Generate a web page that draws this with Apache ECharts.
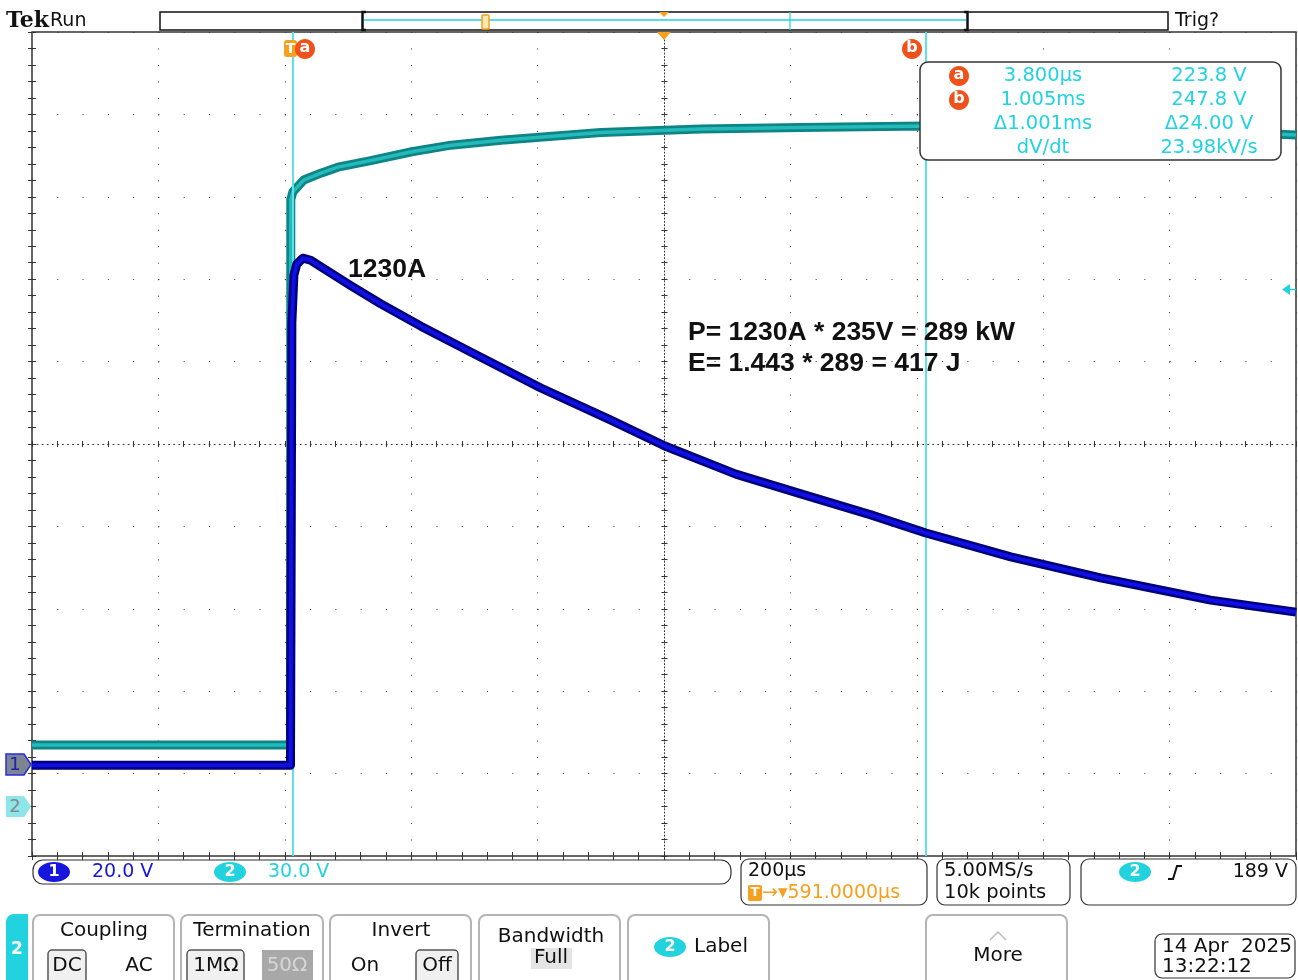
<!DOCTYPE html>
<html><head><meta charset="utf-8">
<script src="https://cdn.jsdelivr.net/npm/echarts@6/dist/echarts.min.js"></script>
<style>html,body{margin:0;padding:0;background:#fff;overflow:hidden}#c{width:1298px;height:980px}</style>
</head><body><div id="c"></div>
<script>
// ---- horizontal: 200 µs/div, 10 div, centre at 591 µs (trigger delay)
const timeWindowUs = [-409, 1591];
const divRange = [0, 10];
// ---- CH1 (blue, 20 V/div) trace
const ch1Time = [-409, 0, 0.5, 2.2, 5.4, 10.1, 19.6, 32, 48.1, 95.6, 143, 206.3, 285.4, 396.2, 507, 592.4, 704.7, 807.6, 918.4, 1005.4, 1139.6, 1282, 1456, 1591];
const ch1Volt = [0, 0, 0, 107.4, 119, 121.7, 123.1, 122.6, 121.0, 116.4, 112.0, 106.6, 100.3, 91.6, 83.8, 77.5, 70.7, 65.9, 60.8, 56.4, 50.6, 45.5, 40.1, 37.2];
const ch1Range = [-22, 178];
// ---- CH2 (cyan, 30 V/div) trace
const ch2Time = [-409, 0, 0.5, 3.8, 21, 48, 75, 127, 192, 254, 333, 491, 649, 808, 1005, 1520, 1591];
const ch2Volt = [22.4, 22.4, 221, 223.8, 228.1, 230.6, 232.8, 235.2, 238.4, 240.8, 242.6, 245.4, 246.7, 247.2, 247.8, 245.2, 244.5];
const ch2Range = [-18, 282];
// ---- cursors
const cursorTimes = [3.8, 1005];
const cursorVolts = [223.8, 247.8];
const readoutTimes = ['3.800µs', '1.005ms', 'Δ1.001ms', 'dV/dt'];
const readoutValues = ['223.8 V', '247.8 V', 'Δ24.00 V', '23.98kV/s'];
// ---- annotations
const peakLabel = '1230A';
const noteLines = ['P= 1230A * 235V = 289 kW', 'E= 1.443 * 289 = 417 J'];

const CYAN = '#22d3df', BLUE = '#1616dc', ORANGE = '#f5a01e', RED = '#f0501a';
const SANS = '"DejaVu Sans"';

function T(x, y, text, size, fill, align, extra) {
  return Object.assign({ type: 'text', z: 60, style: { x, y, text, font: size + 'px ' + SANS, fill: fill || '#111', align: align || 'left', verticalAlign: 'middle' } }, extra || {});
}
function TF(x, y, text, font, fill, align) {
  return { type: 'text', z: 60, style: { x, y, text, font, fill, align: align || 'left', verticalAlign: 'middle' } };
}
function R(x, y, w, h, r, fill, stroke, lw, z) {
  return { type: 'rect', z: z || 50, shape: { x, y, width: w, height: h, r }, style: { fill: fill || 'none', stroke: stroke || 'none', lineWidth: lw || 0 } };
}
function E(cx, cy, rx, ry, fill, z) {
  return { type: 'ellipse', z: z || 55, shape: { cx, cy, rx, ry }, style: { fill } };
}
function L(x1, y1, x2, y2, stroke, lw, z) {
  return { type: 'line', z: z || 55, shape: { x1, y1, x2, y2 }, style: { stroke, lineWidth: lw } };
}
function PG(points, fill, stroke, lw, z) {
  return { type: 'polygon', z: z || 55, shape: { points }, style: { fill, stroke: stroke || 'none', lineWidth: lw || 0 } };
}
function PL(points, stroke, lw, z) {
  return { type: 'polyline', z: z || 55, shape: { points }, style: { stroke, lineWidth: lw, fill: 'none' } };
}

const g = [];
// top bar
g.push(TF(6, 21, 'Tek', 'bold 22px "DejaVu Serif"', '#111'));
g.push(T(50, 21, 'Run', 19, '#111'));
g.push(T(1175, 21, 'Trig?', 19, '#111'));
g.push(R(160, 12, 1008, 18, 0, '#fff', '#111', 1.5));
g.push(L(364, 20, 966, 20, CYAN, 1.5));
g.push(L(790, 12, 790, 30, CYAN, 1.2));
g.push(PL([[366, 12], [362.5, 12], [362.5, 30], [366, 30]], '#111', 2.5));
g.push(PL([[964, 12], [967.5, 12], [967.5, 30], [964, 30]], '#111', 2.5));
g.push(R(482, 15, 7, 14, 1, '#ffe9b0', ORANGE, 1.5, 56));
g.push(PG([[659, 12], [669, 12], [664, 17]], ORANGE));
// horizontal position marker on graticule
g.push(PG([[657, 32], [671, 32], [664, 40]], ORANGE, null, 0, 58));
// cursor labels at top
g.push(R(284, 40, 13, 17, 3, ORANGE, null, 0, 58));
g.push(TF(290.5, 49, 'T', 'bold 14px "DejaVu Sans"', '#fff', 'center'));
g.push(E(305, 49, 10, 10, RED, 59));
g.push(TF(305, 48, 'a', 'bold 16px "DejaVu Sans"', '#fff', 'center'));
g.push(E(912, 49, 10, 10, RED, 59));
g.push(TF(912, 48, 'b', 'bold 16px "DejaVu Sans"', '#fff', 'center'));
// readout box
g.push(R(920, 62, 361, 98, 8, '#fff', '#333', 1.5, 70));
const rowY = [76, 100, 124, 148];
['a', 'b'].forEach((s, i) => {
  g.push(E(959, rowY[i], 10, 10, RED, 72));
  g.push(Object.assign(TF(959, rowY[i] - 1, s, 'bold 16px "DejaVu Sans"', '#fff', 'center'), { z: 73 }));
});
readoutTimes.forEach((s, i) => g.push(Object.assign(T(1043, rowY[i], s, 19.5, CYAN, 'center'), { z: 72 })));
readoutValues.forEach((s, i) => g.push(Object.assign(T(1209, rowY[i], s, 19.5, CYAN, 'center'), { z: 72 })));
// annotations
g.push(TF(348, 270, peakLabel, 'bold 26.5px "Liberation Sans"', '#111'));
noteLines.forEach((s, i) => g.push(TF(688, 333 + i * 31, s, 'bold 26.5px "Liberation Sans"', '#111')));
// channel markers
g.push(PG([[6, 754], [24, 754], [31, 764.5], [24, 775], [6, 775]], '#7c8590', '#2a2ae6', 1.5, 58));
g.push(TF(15, 765, '1', '18px "DejaVu Sans"', '#2020b0', 'center'));
g.push(PG([[6, 796], [24, 796], [31, 806.5], [24, 817], [6, 817]], '#8fe6e8', null, 0, 58));
g.push(TF(15, 807, '2', '18px "DejaVu Sans"', '#808890', 'center'));
// trigger level marker on right
g.push(PG([[1282, 289.5], [1290, 284], [1290, 295]], CYAN, null, 0, 58));
g.push(L(1289, 289.5, 1296, 289.5, CYAN, 1.5, 58));
// status row
g.push(R(33, 860, 698, 24, 10, '#fff', '#333', 1.2));
g.push(E(54, 872, 16, 10, BLUE));
g.push(TF(54, 872, '1', 'bold 16px "DejaVu Sans"', '#fff', 'center'));
g.push(T(92, 872, '20.0 V', 19, BLUE));
g.push(E(230, 872, 16, 10, CYAN));
g.push(TF(230, 872, '2', 'bold 16px "DejaVu Sans"', '#fff', 'center'));
g.push(T(268, 872, '30.0 V', 19, CYAN));
g.push(R(741, 859, 186, 46, 8, '#fff', '#333', 1.2));
g.push(T(748, 871, '200µs', 19, '#111'));
g.push(R(748, 885, 14, 16, 2, ORANGE, null, 0, 55));
g.push(TF(755, 893, 'T', 'bold 13px "DejaVu Sans"', '#fff', 'center'));
g.push(T(762, 893, '→▾591.0000µs', 19, ORANGE));
g.push(R(937, 859, 133, 46, 8, '#fff', '#333', 1.2));
g.push(T(944, 871, '5.00MS/s', 19.5, '#111'));
g.push(T(944, 893, '10k points', 19.5, '#111'));
g.push(R(1081, 859, 215, 46, 8, '#fff', '#333', 1.2));
g.push(E(1135, 872, 16, 10, CYAN));
g.push(TF(1135, 872, '2', 'bold 16px "DejaVu Sans"', '#fff', 'center'));
g.push(PL([[1168, 879], [1173, 879], [1177, 866], [1182, 866]], '#111', 2));
g.push(T(1288, 872, '189 V', 19, '#111', 'right'));
// bottom menu
g.push(R(6, 914, 22, 80, [8, 0, 0, 8], CYAN, null, 0));
g.push(TF(17, 950, '2', 'bold 17px "DejaVu Sans"', '#fff', 'center'));
[[33, 174], [181, 323], [330, 471], [479, 620], [628, 769], [926, 1067]].forEach(b => g.push(R(b[0], 915, b[1] - b[0], 80, 7, '#fff', '#b4b4b4', 2)));
g.push(T(104, 931, 'Coupling', 20, '#111', 'center'));
g.push(R(48, 950, 38, 34, 4, '#f0f0f0', '#555', 1.5, 52));
g.push(T(67, 966, 'DC', 20, '#111', 'center'));
g.push(T(139, 966, 'AC', 20, '#111', 'center'));
g.push(T(252, 931, 'Termination', 20, '#111', 'center'));
g.push(R(187, 950, 57, 34, 4, '#f0f0f0', '#555', 1.5, 52));
g.push(T(216, 966, '1MΩ', 20, '#111', 'center'));
g.push(R(262, 950, 51, 34, 0, '#a8a8a8', null, 0, 52));
g.push(T(287, 966, '50Ω', 20, '#d6d6d6', 'center'));
g.push(T(401, 931, 'Invert', 20, '#111', 'center'));
g.push(T(365, 966, 'On', 20, '#111', 'center'));
g.push(R(416, 950, 42, 34, 4, '#f0f0f0', '#555', 1.5, 52));
g.push(T(437, 966, 'Off', 20, '#111', 'center'));
g.push(T(551, 937, 'Bandwidth', 20, '#111', 'center'));
g.push(R(531, 948, 41, 21, 0, '#e4e4e4', null, 0, 52));
g.push(T(551, 958, 'Full', 20, '#111', 'center'));
g.push(E(670, 947, 16, 10, CYAN));
g.push(TF(670, 947, '2', 'bold 16px "DejaVu Sans"', '#fff', 'center'));
g.push(T(694, 947, 'Label', 20, '#111'));
g.push(PL([[990, 940], [998, 932], [1006, 940]], '#bbb', 1.5));
g.push(T(998, 956, 'More', 20, '#111', 'center'));
g.push(R(1155, 934, 140, 44, 7, '#fff', '#333', 1.2));
g.push(T(1162, 947, '14 Apr  2025', 20, '#111'));
g.push(T(1162, 967, '13:22:12', 20, '#111'));

const tickStyle = { color: '#333', width: 1 };
function divAxis(extra) {
  return Object.assign({ type: 'value', min: divRange[0], max: divRange[1], interval: 1, axisLabel: { show: false }, axisLine: { show: false }, splitLine: { show: false } }, extra);
}
const xAxes = [
  divAxis({ position: 'bottom', axisTick: { show: true, inside: true, length: 4, lineStyle: tickStyle }, minorTick: { show: true, splitNumber: 5, length: 4, lineStyle: tickStyle }, splitLine: { show: true, lineStyle: { color: '#3a3a3a', width: 1, type: [1, 15.48] } } }),
  divAxis({ position: 'top', axisTick: { show: true, inside: true, length: 4, lineStyle: tickStyle }, minorTick: { show: true, splitNumber: 5, length: 4, lineStyle: tickStyle } }),
  { type: 'value', min: timeWindowUs[0], max: timeWindowUs[1], show: false },
  divAxis({ position: 'bottom', offset: -412, axisLine: { show: true, lineStyle: { color: '#333', width: 1, type: [1, 4.06] } }, axisTick: { show: true, inside: true, length: 3, lineStyle: tickStyle }, minorTick: { show: true, splitNumber: 5, length: 3, lineStyle: tickStyle } }),
  divAxis({ position: 'bottom', offset: -412, axisTick: { show: true, inside: false, length: 3, lineStyle: tickStyle }, minorTick: { show: true, splitNumber: 5, length: 3, lineStyle: tickStyle } })
];
const yAxes = [
  divAxis({ position: 'left', axisTick: { show: true, inside: true, length: 4, lineStyle: tickStyle }, minorTick: { show: true, splitNumber: 5, length: 4, lineStyle: tickStyle }, splitLine: { show: true, lineStyle: { color: '#3a3a3a', width: 1, type: [1, 24.28] } } }),
  divAxis({ position: 'right', axisTick: { show: true, inside: true, length: 4, lineStyle: tickStyle }, minorTick: { show: true, splitNumber: 5, length: 4, lineStyle: tickStyle } }),
  { type: 'value', min: ch1Range[0], max: ch1Range[1], show: false },
  { type: 'value', min: ch2Range[0], max: ch2Range[1], show: false },
  divAxis({ position: 'left', offset: -632.5, axisLine: { show: true, lineStyle: { color: '#333', width: 1, type: [1, 2.3] } }, axisTick: { show: true, inside: true, length: 3, lineStyle: tickStyle }, minorTick: { show: true, splitNumber: 5, length: 3, lineStyle: tickStyle } }),
  divAxis({ position: 'left', offset: -632.5, axisTick: { show: true, inside: false, length: 3, lineStyle: tickStyle }, minorTick: { show: true, splitNumber: 5, length: 3, lineStyle: tickStyle } })
];

const ch1Data = ch1Time.map((t, i) => [t, ch1Volt[i]]);
const ch2Data = ch2Time.map((t, i) => [t, ch2Volt[i]]);
const cursorData = cursorTimes.map((t, i) => [t, cursorVolts[i]]);
function trace(name, data, yIdx, width, color, z) {
  return { name, type: 'line', data, xAxisIndex: 2, yAxisIndex: yIdx, showSymbol: false, symbol: 'none', z, silent: true,
    lineStyle: { width, color, join: 'round', cap: 'butt' } };
}

const chart = echarts.init(document.getElementById('c'), null, { renderer: 'canvas' });
chart.setOption({
  animation: false,
  backgroundColor: '#fff',
  grid: { left: 32, top: 32, width: 1264, height: 824, show: true, borderColor: '#333', borderWidth: 1.5, backgroundColor: 'transparent' },
  xAxis: xAxes,
  yAxis: yAxes,
  series: [
    { name: 'cursors', type: 'line', data: cursorData, xAxisIndex: 2, yAxisIndex: 3, symbol: 'none', lineStyle: { width: 0, opacity: 0 }, z: 1, silent: true,
      markLine: { silent: true, symbol: 'none', label: { show: false }, lineStyle: { color: '#5ee2ea', width: 2, type: 'solid' },
        data: cursorTimes.map(t => ({ xAxis: t })) } },
    trace('CH2 band', ch2Data, 3, 9, '#0d8486', 3),
    trace('CH2', ch2Data, 3, 3.5, '#25baba', 4),
    trace('CH1 band', ch1Data, 2, 9, '#000078', 5),
    trace('CH1', ch1Data, 2, 4, '#0f0fe6', 6)
  ],
  graphic: { elements: g }
});
</script>
</body></html>
